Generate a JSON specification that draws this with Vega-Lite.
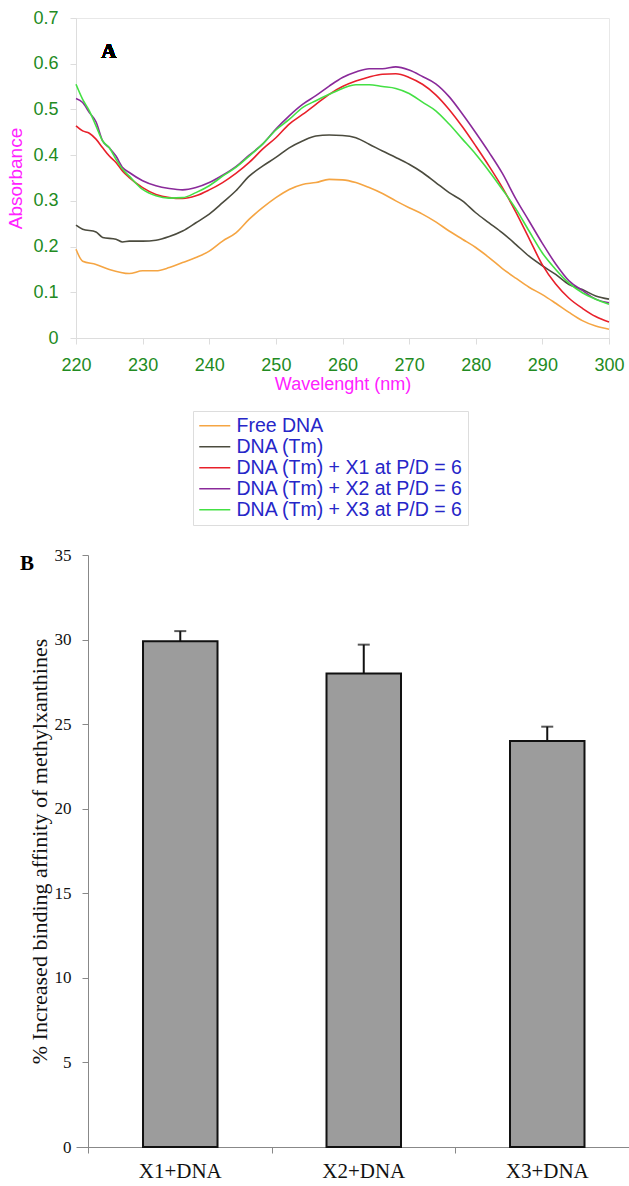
{
  "$schema": "https://vega.github.io/schema/vega-lite/v6.json",
  "background": "white",
  "padding": {"left": 6, "top": 8, "right": 0, "bottom": 0},
  "spacing": 152,
  "config": {"font": "Liberation Sans", "view": {"stroke": null}},
  "vconcat": [
    {
      "width": 533,
      "height": 320,
      "view": {"stroke": "#e8e8e8", "strokeWidth": 1},
      "data": {"values": [
        {"w":220,"a":0.194,"s":"Free DNA"},{"w":221,"a":0.168,"s":"Free DNA"},{"w":223,"a":0.161,"s":"Free DNA"},{"w":225,"a":0.150,"s":"Free DNA"},{"w":228,"a":0.141,"s":"Free DNA"},{"w":230,"a":0.147,"s":"Free DNA"},{"w":232,"a":0.147,"s":"Free DNA"},{"w":234,"a":0.154,"s":"Free DNA"},{"w":236,"a":0.165,"s":"Free DNA"},{"w":238,"a":0.176,"s":"Free DNA"},{"w":240,"a":0.190,"s":"Free DNA"},{"w":242,"a":0.212,"s":"Free DNA"},{"w":244,"a":0.230,"s":"Free DNA"},{"w":246,"a":0.260,"s":"Free DNA"},{"w":248,"a":0.285,"s":"Free DNA"},{"w":250,"a":0.307,"s":"Free DNA"},{"w":252,"a":0.325,"s":"Free DNA"},{"w":254,"a":0.336,"s":"Free DNA"},{"w":256,"a":0.340,"s":"Free DNA"},{"w":258,"a":0.347,"s":"Free DNA"},{"w":260,"a":0.346,"s":"Free DNA"},{"w":262,"a":0.340,"s":"Free DNA"},{"w":264,"a":0.329,"s":"Free DNA"},{"w":266,"a":0.316,"s":"Free DNA"},{"w":268,"a":0.300,"s":"Free DNA"},{"w":270,"a":0.285,"s":"Free DNA"},{"w":272,"a":0.271,"s":"Free DNA"},{"w":274,"a":0.254,"s":"Free DNA"},{"w":276,"a":0.234,"s":"Free DNA"},{"w":278,"a":0.216,"s":"Free DNA"},{"w":280,"a":0.198,"s":"Free DNA"},{"w":282,"a":0.176,"s":"Free DNA"},{"w":284,"a":0.152,"s":"Free DNA"},{"w":286,"a":0.131,"s":"Free DNA"},{"w":288,"a":0.111,"s":"Free DNA"},{"w":290,"a":0.095,"s":"Free DNA"},{"w":292,"a":0.076,"s":"Free DNA"},{"w":294,"a":0.056,"s":"Free DNA"},{"w":296,"a":0.038,"s":"Free DNA"},{"w":298,"a":0.026,"s":"Free DNA"},{"w":300,"a":0.019,"s":"Free DNA"},

        {"w":220,"a":0.247,"s":"DNA (Tm)"},{"w":221,"a":0.238,"s":"DNA (Tm)"},{"w":223,"a":0.232,"s":"DNA (Tm)"},{"w":224,"a":0.220,"s":"DNA (Tm)"},{"w":226,"a":0.216,"s":"DNA (Tm)"},{"w":227,"a":0.210,"s":"DNA (Tm)"},{"w":228,"a":0.212,"s":"DNA (Tm)"},{"w":230,"a":0.212,"s":"DNA (Tm)"},{"w":232,"a":0.214,"s":"DNA (Tm)"},{"w":234,"a":0.222,"s":"DNA (Tm)"},{"w":236,"a":0.234,"s":"DNA (Tm)"},{"w":238,"a":0.252,"s":"DNA (Tm)"},{"w":240,"a":0.271,"s":"DNA (Tm)"},{"w":242,"a":0.296,"s":"DNA (Tm)"},{"w":244,"a":0.322,"s":"DNA (Tm)"},{"w":246,"a":0.354,"s":"DNA (Tm)"},{"w":248,"a":0.376,"s":"DNA (Tm)"},{"w":250,"a":0.395,"s":"DNA (Tm)"},{"w":252,"a":0.416,"s":"DNA (Tm)"},{"w":254,"a":0.431,"s":"DNA (Tm)"},{"w":256,"a":0.442,"s":"DNA (Tm)"},{"w":258,"a":0.444,"s":"DNA (Tm)"},{"w":260,"a":0.443,"s":"DNA (Tm)"},{"w":262,"a":0.438,"s":"DNA (Tm)"},{"w":264,"a":0.424,"s":"DNA (Tm)"},{"w":266,"a":0.409,"s":"DNA (Tm)"},{"w":268,"a":0.395,"s":"DNA (Tm)"},{"w":270,"a":0.380,"s":"DNA (Tm)"},{"w":272,"a":0.362,"s":"DNA (Tm)"},{"w":274,"a":0.340,"s":"DNA (Tm)"},{"w":276,"a":0.318,"s":"DNA (Tm)"},{"w":278,"a":0.300,"s":"DNA (Tm)"},{"w":280,"a":0.274,"s":"DNA (Tm)"},{"w":282,"a":0.252,"s":"DNA (Tm)"},{"w":284,"a":0.230,"s":"DNA (Tm)"},{"w":286,"a":0.205,"s":"DNA (Tm)"},{"w":288,"a":0.179,"s":"DNA (Tm)"},{"w":290,"a":0.158,"s":"DNA (Tm)"},{"w":292,"a":0.139,"s":"DNA (Tm)"},{"w":294,"a":0.117,"s":"DNA (Tm)"},{"w":296,"a":0.106,"s":"DNA (Tm)"},{"w":298,"a":0.092,"s":"DNA (Tm)"},{"w":300,"a":0.085,"s":"DNA (Tm)"},

        {"w":220,"a":0.464,"s":"\u00a0DNA (Tm) + X1 at P/D = 6"},{"w":221,"a":0.453,"s":"\u00a0DNA (Tm) + X1 at P/D = 6"},{"w":222,"a":0.448,"s":"\u00a0DNA (Tm) + X1 at P/D = 6"},{"w":223,"a":0.435,"s":"\u00a0DNA (Tm) + X1 at P/D = 6"},{"w":224,"a":0.416,"s":"\u00a0DNA (Tm) + X1 at P/D = 6"},{"w":225,"a":0.398,"s":"\u00a0DNA (Tm) + X1 at P/D = 6"},{"w":226,"a":0.384,"s":"\u00a0DNA (Tm) + X1 at P/D = 6"},{"w":227,"a":0.365,"s":"\u00a0DNA (Tm) + X1 at P/D = 6"},{"w":228,"a":0.351,"s":"\u00a0DNA (Tm) + X1 at P/D = 6"},{"w":230,"a":0.329,"s":"\u00a0DNA (Tm) + X1 at P/D = 6"},{"w":232,"a":0.314,"s":"\u00a0DNA (Tm) + X1 at P/D = 6"},{"w":234,"a":0.307,"s":"\u00a0DNA (Tm) + X1 at P/D = 6"},{"w":236,"a":0.305,"s":"\u00a0DNA (Tm) + X1 at P/D = 6"},{"w":238,"a":0.311,"s":"\u00a0DNA (Tm) + X1 at P/D = 6"},{"w":240,"a":0.324,"s":"\u00a0DNA (Tm) + X1 at P/D = 6"},{"w":242,"a":0.340,"s":"\u00a0DNA (Tm) + X1 at P/D = 6"},{"w":244,"a":0.360,"s":"\u00a0DNA (Tm) + X1 at P/D = 6"},{"w":246,"a":0.384,"s":"\u00a0DNA (Tm) + X1 at P/D = 6"},{"w":248,"a":0.413,"s":"\u00a0DNA (Tm) + X1 at P/D = 6"},{"w":250,"a":0.438,"s":"\u00a0DNA (Tm) + X1 at P/D = 6"},{"w":252,"a":0.468,"s":"\u00a0DNA (Tm) + X1 at P/D = 6"},{"w":254,"a":0.489,"s":"\u00a0DNA (Tm) + X1 at P/D = 6"},{"w":256,"a":0.511,"s":"\u00a0DNA (Tm) + X1 at P/D = 6"},{"w":258,"a":0.533,"s":"\u00a0DNA (Tm) + X1 at P/D = 6"},{"w":260,"a":0.550,"s":"\u00a0DNA (Tm) + X1 at P/D = 6"},{"w":262,"a":0.562,"s":"\u00a0DNA (Tm) + X1 at P/D = 6"},{"w":264,"a":0.571,"s":"\u00a0DNA (Tm) + X1 at P/D = 6"},{"w":266,"a":0.577,"s":"\u00a0DNA (Tm) + X1 at P/D = 6"},{"w":268,"a":0.578,"s":"\u00a0DNA (Tm) + X1 at P/D = 6"},{"w":270,"a":0.570,"s":"\u00a0DNA (Tm) + X1 at P/D = 6"},{"w":272,"a":0.555,"s":"\u00a0DNA (Tm) + X1 at P/D = 6"},{"w":274,"a":0.532,"s":"\u00a0DNA (Tm) + X1 at P/D = 6"},{"w":276,"a":0.500,"s":"\u00a0DNA (Tm) + X1 at P/D = 6"},{"w":278,"a":0.462,"s":"\u00a0DNA (Tm) + X1 at P/D = 6"},{"w":280,"a":0.420,"s":"\u00a0DNA (Tm) + X1 at P/D = 6"},{"w":282,"a":0.376,"s":"\u00a0DNA (Tm) + X1 at P/D = 6"},{"w":284,"a":0.329,"s":"\u00a0DNA (Tm) + X1 at P/D = 6"},{"w":286,"a":0.276,"s":"\u00a0DNA (Tm) + X1 at P/D = 6"},{"w":288,"a":0.218,"s":"\u00a0DNA (Tm) + X1 at P/D = 6"},{"w":290,"a":0.160,"s":"\u00a0DNA (Tm) + X1 at P/D = 6"},{"w":292,"a":0.118,"s":"\u00a0DNA (Tm) + X1 at P/D = 6"},{"w":294,"a":0.087,"s":"\u00a0DNA (Tm) + X1 at P/D = 6"},{"w":296,"a":0.065,"s":"\u00a0DNA (Tm) + X1 at P/D = 6"},{"w":298,"a":0.047,"s":"\u00a0DNA (Tm) + X1 at P/D = 6"},{"w":300,"a":0.035,"s":"\u00a0DNA (Tm) + X1 at P/D = 6"},

        {"w":220,"a":0.524,"s":"\u00a0DNA (Tm) + X2 at P/D = 6"},{"w":221,"a":0.515,"s":"\u00a0DNA (Tm) + X2 at P/D = 6"},{"w":222,"a":0.493,"s":"\u00a0DNA (Tm) + X2 at P/D = 6"},{"w":223,"a":0.473,"s":"\u00a0DNA (Tm) + X2 at P/D = 6"},{"w":224,"a":0.431,"s":"\u00a0DNA (Tm) + X2 at P/D = 6"},{"w":225,"a":0.416,"s":"\u00a0DNA (Tm) + X2 at P/D = 6"},{"w":226,"a":0.398,"s":"\u00a0DNA (Tm) + X2 at P/D = 6"},{"w":227,"a":0.373,"s":"\u00a0DNA (Tm) + X2 at P/D = 6"},{"w":228,"a":0.362,"s":"\u00a0DNA (Tm) + X2 at P/D = 6"},{"w":230,"a":0.344,"s":"\u00a0DNA (Tm) + X2 at P/D = 6"},{"w":232,"a":0.333,"s":"\u00a0DNA (Tm) + X2 at P/D = 6"},{"w":234,"a":0.327,"s":"\u00a0DNA (Tm) + X2 at P/D = 6"},{"w":236,"a":0.324,"s":"\u00a0DNA (Tm) + X2 at P/D = 6"},{"w":238,"a":0.329,"s":"\u00a0DNA (Tm) + X2 at P/D = 6"},{"w":240,"a":0.340,"s":"\u00a0DNA (Tm) + X2 at P/D = 6"},{"w":242,"a":0.356,"s":"\u00a0DNA (Tm) + X2 at P/D = 6"},{"w":244,"a":0.375,"s":"\u00a0DNA (Tm) + X2 at P/D = 6"},{"w":246,"a":0.400,"s":"\u00a0DNA (Tm) + X2 at P/D = 6"},{"w":248,"a":0.424,"s":"\u00a0DNA (Tm) + X2 at P/D = 6"},{"w":250,"a":0.457,"s":"\u00a0DNA (Tm) + X2 at P/D = 6"},{"w":252,"a":0.486,"s":"\u00a0DNA (Tm) + X2 at P/D = 6"},{"w":254,"a":0.511,"s":"\u00a0DNA (Tm) + X2 at P/D = 6"},{"w":256,"a":0.530,"s":"\u00a0DNA (Tm) + X2 at P/D = 6"},{"w":258,"a":0.551,"s":"\u00a0DNA (Tm) + X2 at P/D = 6"},{"w":260,"a":0.570,"s":"\u00a0DNA (Tm) + X2 at P/D = 6"},{"w":262,"a":0.582,"s":"\u00a0DNA (Tm) + X2 at P/D = 6"},{"w":264,"a":0.589,"s":"\u00a0DNA (Tm) + X2 at P/D = 6"},{"w":266,"a":0.589,"s":"\u00a0DNA (Tm) + X2 at P/D = 6"},{"w":268,"a":0.593,"s":"\u00a0DNA (Tm) + X2 at P/D = 6"},{"w":270,"a":0.586,"s":"\u00a0DNA (Tm) + X2 at P/D = 6"},{"w":272,"a":0.572,"s":"\u00a0DNA (Tm) + X2 at P/D = 6"},{"w":274,"a":0.556,"s":"\u00a0DNA (Tm) + X2 at P/D = 6"},{"w":276,"a":0.528,"s":"\u00a0DNA (Tm) + X2 at P/D = 6"},{"w":278,"a":0.490,"s":"\u00a0DNA (Tm) + X2 at P/D = 6"},{"w":280,"a":0.449,"s":"\u00a0DNA (Tm) + X2 at P/D = 6"},{"w":282,"a":0.406,"s":"\u00a0DNA (Tm) + X2 at P/D = 6"},{"w":284,"a":0.360,"s":"\u00a0DNA (Tm) + X2 at P/D = 6"},{"w":286,"a":0.305,"s":"\u00a0DNA (Tm) + X2 at P/D = 6"},{"w":288,"a":0.256,"s":"\u00a0DNA (Tm) + X2 at P/D = 6"},{"w":290,"a":0.207,"s":"\u00a0DNA (Tm) + X2 at P/D = 6"},{"w":292,"a":0.162,"s":"\u00a0DNA (Tm) + X2 at P/D = 6"},{"w":294,"a":0.125,"s":"\u00a0DNA (Tm) + X2 at P/D = 6"},{"w":296,"a":0.104,"s":"\u00a0DNA (Tm) + X2 at P/D = 6"},{"w":298,"a":0.085,"s":"\u00a0DNA (Tm) + X2 at P/D = 6"},{"w":300,"a":0.077,"s":"\u00a0DNA (Tm) + X2 at P/D = 6"},

        {"w":220,"a":0.555,"s":"\u00a0DNA (Tm) + X3 at P/D = 6"},{"w":221,"a":0.522,"s":"\u00a0DNA (Tm) + X3 at P/D = 6"},{"w":222,"a":0.497,"s":"\u00a0DNA (Tm) + X3 at P/D = 6"},{"w":223,"a":0.464,"s":"\u00a0DNA (Tm) + X3 at P/D = 6"},{"w":224,"a":0.431,"s":"\u00a0DNA (Tm) + X3 at P/D = 6"},{"w":225,"a":0.416,"s":"\u00a0DNA (Tm) + X3 at P/D = 6"},{"w":226,"a":0.391,"s":"\u00a0DNA (Tm) + X3 at P/D = 6"},{"w":227,"a":0.369,"s":"\u00a0DNA (Tm) + X3 at P/D = 6"},{"w":228,"a":0.354,"s":"\u00a0DNA (Tm) + X3 at P/D = 6"},{"w":230,"a":0.325,"s":"\u00a0DNA (Tm) + X3 at P/D = 6"},{"w":232,"a":0.311,"s":"\u00a0DNA (Tm) + X3 at P/D = 6"},{"w":234,"a":0.306,"s":"\u00a0DNA (Tm) + X3 at P/D = 6"},{"w":236,"a":0.307,"s":"\u00a0DNA (Tm) + X3 at P/D = 6"},{"w":238,"a":0.318,"s":"\u00a0DNA (Tm) + X3 at P/D = 6"},{"w":240,"a":0.333,"s":"\u00a0DNA (Tm) + X3 at P/D = 6"},{"w":242,"a":0.354,"s":"\u00a0DNA (Tm) + X3 at P/D = 6"},{"w":244,"a":0.373,"s":"\u00a0DNA (Tm) + X3 at P/D = 6"},{"w":246,"a":0.398,"s":"\u00a0DNA (Tm) + X3 at P/D = 6"},{"w":248,"a":0.424,"s":"\u00a0DNA (Tm) + X3 at P/D = 6"},{"w":250,"a":0.455,"s":"\u00a0DNA (Tm) + X3 at P/D = 6"},{"w":252,"a":0.478,"s":"\u00a0DNA (Tm) + X3 at P/D = 6"},{"w":254,"a":0.504,"s":"\u00a0DNA (Tm) + X3 at P/D = 6"},{"w":256,"a":0.519,"s":"\u00a0DNA (Tm) + X3 at P/D = 6"},{"w":258,"a":0.533,"s":"\u00a0DNA (Tm) + X3 at P/D = 6"},{"w":260,"a":0.546,"s":"\u00a0DNA (Tm) + X3 at P/D = 6"},{"w":262,"a":0.554,"s":"\u00a0DNA (Tm) + X3 at P/D = 6"},{"w":264,"a":0.554,"s":"\u00a0DNA (Tm) + X3 at P/D = 6"},{"w":266,"a":0.550,"s":"\u00a0DNA (Tm) + X3 at P/D = 6"},{"w":268,"a":0.546,"s":"\u00a0DNA (Tm) + X3 at P/D = 6"},{"w":270,"a":0.535,"s":"\u00a0DNA (Tm) + X3 at P/D = 6"},{"w":272,"a":0.516,"s":"\u00a0DNA (Tm) + X3 at P/D = 6"},{"w":274,"a":0.497,"s":"\u00a0DNA (Tm) + X3 at P/D = 6"},{"w":276,"a":0.468,"s":"\u00a0DNA (Tm) + X3 at P/D = 6"},{"w":278,"a":0.435,"s":"\u00a0DNA (Tm) + X3 at P/D = 6"},{"w":280,"a":0.402,"s":"\u00a0DNA (Tm) + X3 at P/D = 6"},{"w":282,"a":0.365,"s":"\u00a0DNA (Tm) + X3 at P/D = 6"},{"w":284,"a":0.325,"s":"\u00a0DNA (Tm) + X3 at P/D = 6"},{"w":286,"a":0.283,"s":"\u00a0DNA (Tm) + X3 at P/D = 6"},{"w":288,"a":0.234,"s":"\u00a0DNA (Tm) + X3 at P/D = 6"},{"w":290,"a":0.186,"s":"\u00a0DNA (Tm) + X3 at P/D = 6"},{"w":292,"a":0.150,"s":"\u00a0DNA (Tm) + X3 at P/D = 6"},{"w":294,"a":0.120,"s":"\u00a0DNA (Tm) + X3 at P/D = 6"},{"w":296,"a":0.099,"s":"\u00a0DNA (Tm) + X3 at P/D = 6"},{"w":298,"a":0.085,"s":"\u00a0DNA (Tm) + X3 at P/D = 6"},{"w":300,"a":0.074,"s":"\u00a0DNA (Tm) + X3 at P/D = 6"}
      ]},
      "layer": [
        {
          "mark": {"type": "line", "strokeWidth": 1.6, "interpolate": "monotone"},
          "encoding": {
            "x": {"field": "w", "type": "quantitative",
                  "scale": {"domain": [220, 300], "nice": false, "zero": false},
                  "axis": {"title": "Wavelenght (nm)", "values": [220,230,240,250,260,270,280,290,300], "labelFlush": false,
                           "grid": false, "domainColor": "#dddddd", "tickColor": "#dddddd", "tickSize": 6,
                           "labelColor": "#228B22", "labelFontSize": 18, "labelFont": "Liberation Sans", "labelPadding": 12,
                           "titleColor": "#ff22ff", "titleFontSize": 18, "titleFont": "Liberation Sans", "titleFontWeight": "normal", "titlePadding": 1}},
            "y": {"field": "a", "type": "quantitative",
                  "scale": {"domain": [0, 0.7], "nice": false},
                  "axis": {"title": "Absorbance", "values": [0,0.1,0.2,0.3,0.4,0.5,0.6,0.7], "format": "~g",
                           "grid": false, "domainColor": "#dddddd", "tickColor": "#dddddd", "tickSize": 6,
                           "labelColor": "#228B22", "labelFontSize": 18, "labelFont": "Liberation Sans", "labelPadding": 12,
                           "titleColor": "#ff22ff", "titleFontSize": 19, "titleFont": "Liberation Sans", "titleFontWeight": "normal", "titlePadding": 7}},
            "color": {"field": "s", "type": "nominal",
                      "scale": {"domain": ["Free DNA", "DNA (Tm)", "\u00a0DNA (Tm) + X1 at P/D = 6", "\u00a0DNA (Tm) + X2 at P/D = 6", "\u00a0DNA (Tm) + X3 at P/D = 6"],
                                "range": ["#F5A543", "#4B4B3E", "#E8202A", "#8A2A9A", "#44E044"]},
                      "legend": {"orient": "none", "legendX": 117, "legendY": 393, "title": null,
                                 "strokeColor": "#dddddd", "fillColor": "white", "padding": 5,
                                 "symbolType": "M-1,0H2.65", "symbolSize": 289, "symbolStrokeWidth": 1.5,
                                 "labelFont": "Liberation Sans", "labelFontSize": 19.5, "labelColor": "#2626C8",
                                 "labelOffset": 19, "labelLimit": 400, "rowPadding": 0}}
          }
        },
        {
          "mark": {"type": "text", "text": "A", "font": "Liberation Serif", "fontWeight": "bold", "fontSize": 21, "align": "left", "baseline": "alphabetic", "fill": "black"},
          "encoding": {"x": {"datum": 223.8}, "y": {"datum": 0.613}}
        }
      ]
    },
    {
      "width": 554,
      "height": 592,
      "title": {"text": "B", "anchor": "start", "frame": "bounds", "font": "Liberation Serif", "fontWeight": "bold", "fontSize": 21, "color": "black", "offset": -28, "dx": -8},
      "data": {"values": [
        {"g": "X1+DNA", "v": 29.9, "hi": 30.5},
        {"g": "X2+DNA", "v": 28.0, "hi": 29.7},
        {"g": "X3+DNA", "v": 24.0, "hi": 24.85}
      ]},
      "encoding": {
        "x": {"field": "g", "type": "nominal",
              "scale": {"type": "band", "paddingInner": 0.594, "paddingOuter": 0.3066, "align": 0.5956},
              "axis": {"title": null, "labelAngle": 0, "labelFont": "Liberation Serif", "labelFontSize": 21, "labelColor": "#111111",
                       "domainColor": "#888888", "tickColor": "#888888", "tickSize": 6, "bandPosition": -0.7315, "labelPadding": 7}}
      },
      "layer": [
        {
          "mark": {"type": "bar", "fill": "#9c9c9c", "stroke": "#111111", "strokeWidth": 2},
          "encoding": {
            "y": {"field": "v", "type": "quantitative",
                  "scale": {"domain": [0, 35], "nice": false},
                  "axis": {"title": "% Increased binding affinity of methylxanthines", "values": [0,5,10,15,20,25,30,35],
                           "grid": false, "offset": -12, "domainColor": "#888888", "tickColor": "#888888", "tickSize": 6,
                           "labelFont": "Liberation Serif", "labelFontSize": 17, "labelColor": "#111111", "labelPadding": 11,
                           "titleFont": "Liberation Serif", "titleFontSize": 22, "titleFontWeight": "normal", "titleColor": "#111111", "titlePadding": 3}}
          }
        },
        {
          "mark": {"type": "rule", "color": "#111111", "strokeWidth": 2},
          "encoding": {"y": {"field": "v", "type": "quantitative"}, "y2": {"field": "hi"}}
        },
        {
          "mark": {"type": "tick", "orient": "horizontal", "color": "#111111", "thickness": 2, "size": 12},
          "encoding": {"y": {"field": "hi", "type": "quantitative"}}
        }
      ]
    }
  ]
}
